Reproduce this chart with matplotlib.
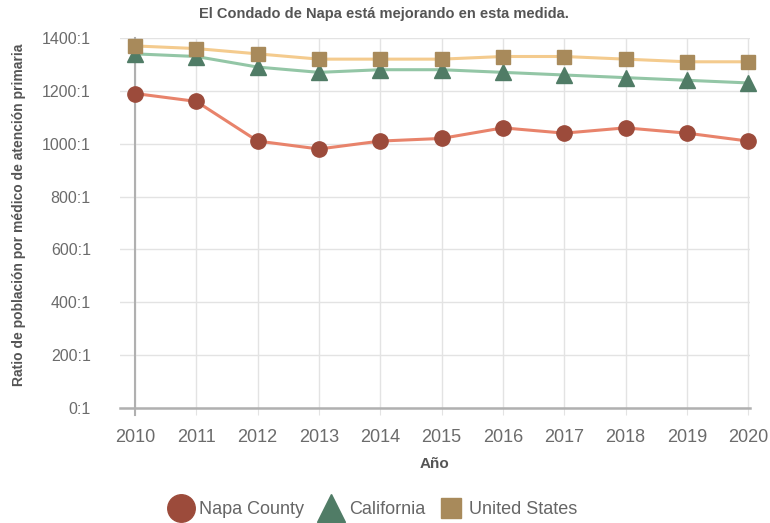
import numpy as np
import matplotlib.pyplot as plt
from matplotlib.lines import Line2D

plt.rcParams['font.family'] = ['Liberation Sans', 'DejaVu Sans']

years = [2010, 2011, 2012, 2013, 2014, 2015, 2016, 2017, 2018, 2019, 2020]
napa = [1190, 1160, 1010, 980, 1010, 1020, 1060, 1040, 1060, 1040, 1010]
california = [1340, 1330, 1290, 1270, 1280, 1280, 1270, 1260, 1250, 1240, 1230]
united_states = [1370, 1360, 1340, 1320, 1320, 1320, 1330, 1330, 1320, 1310, 1310]
y_ticks = [0, 200, 400, 600, 800, 1000, 1200, 1400]
y_labels = [f'{v}:1' for v in y_ticks]

series = [
    ('Napa County', napa, 'o', '#e8836b', '#9c4b3b', 11),
    ('California', california, '^', '#93c6a6', '#507c66', 11),
    ('United States', united_states, 's', '#f4cb8e', '#a88a5b', 10),
]

fig = plt.figure(figsize=(7.7, 5.23), dpi=100)
ax = fig.add_axes([120 / 770, 1 - 408 / 523, (750 - 120) / 770, (408 - 38) / 523])

for name, vals, mk, lc, mc, ms in series:
    ax.plot(years, vals, color=lc, linewidth=2.2, zorder=3)
    ax.plot(years, vals, linestyle='none', marker=mk, markersize=ms,
            markerfacecolor=mc, markeredgecolor=mc, zorder=4, clip_on=False)

ax.set_xlim(2009.755, 2020.03)
ax.set_ylim(0, 1400)
ax.set_xticks(years)
ax.set_xticklabels([str(y) for y in years])
ax.set_yticks(y_ticks)
ax.set_yticklabels(y_labels)
ax.grid(True, color='#e3e3e3', linewidth=1)
ax.set_axisbelow(True)
for s in ['top', 'right', 'left']:
    ax.spines[s].set_visible(False)
ax.spines['bottom'].set_color('#b0b0b0')
ax.spines['bottom'].set_linewidth(1.8)
ax.axvline(2010, ymin=-0.019, ymax=1, color='#b0b0b0', linewidth=1.5, clip_on=False, zorder=2)

ax.tick_params(axis='x', length=5, color='#e3e3e3', labelsize=13, labelcolor='#6b6b6b', pad=10)
ax.tick_params(axis='y', length=0, labelsize=11.5, labelcolor='#6b6b6b', pad=21)

ax.set_xlabel('Año', fontsize=11, fontweight='bold', color='#555555', labelpad=8)
fig.text(0.025, 1 - 215 / 523, 'Ratio de población por médico de atención primaria',
         rotation=90, fontsize=10, fontweight='bold', color='#555555', ha='center', va='center')
fig.text(0.498, 1 - 14 / 523, 'El Condado de Napa está mejorando en esta medida.',
         fontsize=10.5, fontweight='bold', color='#555555', ha='center', va='center')

handles = [Line2D([], [], linestyle='none', marker=mk, markersize=ms * 1.8 if mk != 's' else 14,
                  markerfacecolor=mc, markeredgecolor=mc) for _, _, mk, _, mc, ms in series]
fig.legend(handles, [s[0] for s in series], loc='center', bbox_to_anchor=(0.484, 0.025),
           ncol=3, frameon=False, fontsize=13, handletextpad=0.25, columnspacing=0.7,
           handlelength=1.5, labelcolor='#666666')

fig.savefig('out.png', dpi=100)
